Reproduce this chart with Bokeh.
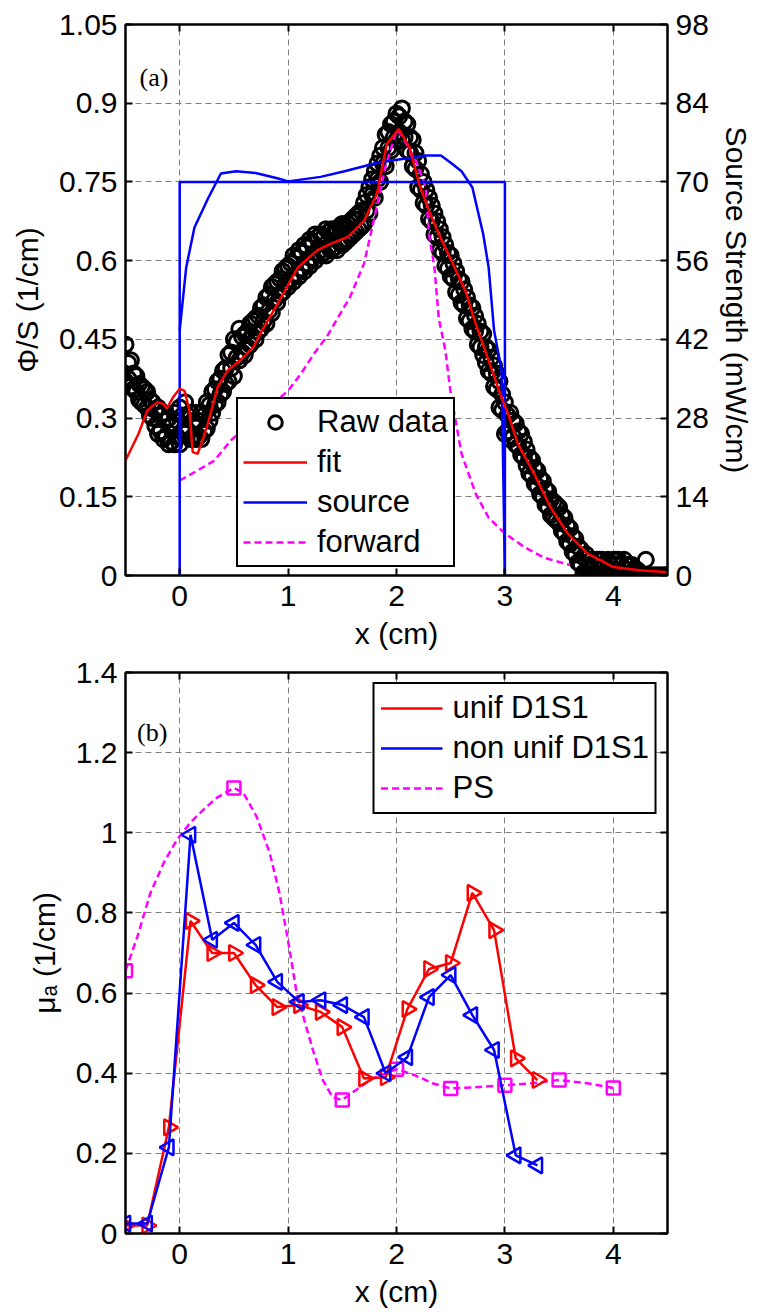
import numpy as np
from bokeh.plotting import figure
from bokeh.models import Range1d, LinearAxis, FixedTicker, Legend, LegendItem, Label
from bokeh.layouts import column
from bokeh.embed import file_html
from bokeh.resources import INLINE

FONT = "Liberation Sans"
SERIF = "Liberation Serif"

# ---------------- panel (a) data ----------------
# raw data: upper edge, lower edge (on x grid), upper-middle and lower-middle (between grid points)
raw_x = [-0.50, -0.45, -0.40, -0.35, -0.30, -0.25, -0.20, -0.15, -0.10, -0.05,
         0.00, 0.05, 0.10, 0.15, 0.20, 0.25, 0.30, 0.35, 0.40, 0.45,
         0.50, 0.55, 0.60, 0.65, 0.70, 0.75, 0.80, 0.85, 0.90, 0.95,
         1.00, 1.05, 1.10, 1.15, 1.20, 1.25, 1.30, 1.35, 1.40, 1.45,
         1.50, 1.55, 1.60, 1.65, 1.70, 1.75, 1.80, 1.85, 1.90, 1.95,
         2.00, 2.05, 2.10, 2.15, 2.20, 2.25, 2.30, 2.35, 2.40, 2.45,
         2.50, 2.55, 2.60, 2.65, 2.70, 2.75, 2.80, 2.85, 2.90, 2.95,
         3.00, 3.05, 3.10, 3.15, 3.20, 3.25, 3.30, 3.35, 3.40, 3.45,
         3.50, 3.55, 3.60, 3.65, 3.70, 3.75, 3.80, 3.85, 3.90, 3.95,
         4.00, 4.05, 4.10, 4.15, 4.20, 4.25, 4.30, 4.35, 4.40, 4.45, 4.50]
raw_top = [0.44, 0.41, 0.38, 0.36, 0.35, 0.33, 0.32, 0.31, 0.30, 0.31,
           0.32, 0.33, 0.31, 0.31, 0.31, 0.33, 0.35, 0.37, 0.39, 0.42,
           0.45, 0.47, 0.46, 0.48, 0.49, 0.51, 0.53, 0.55, 0.56, 0.58,
           0.59, 0.61, 0.62, 0.63, 0.64, 0.65, 0.65, 0.66, 0.66, 0.66,
           0.67, 0.67, 0.68, 0.69, 0.71, 0.74, 0.77, 0.80, 0.84, 0.86,
           0.88, 0.89, 0.86, 0.83, 0.79, 0.75, 0.72, 0.69, 0.66, 0.63,
           0.61, 0.58, 0.56, 0.53, 0.51, 0.48, 0.46, 0.43, 0.40, 0.37,
           0.33, 0.31, 0.29, 0.27, 0.24, 0.22, 0.20, 0.18, 0.16, 0.14,
           0.13, 0.11, 0.09, 0.07, 0.05, 0.04, 0.03, 0.03, 0.03, 0.03,
           0.03, 0.03, 0.03, 0.02, 0.01, 0.00, 0.03, 0.00, 0.00, 0.00, 0.00]
raw_bot = [0.37, 0.36, 0.35, 0.33, 0.32, 0.30, 0.27, 0.26, 0.25, 0.25,
           0.25, 0.27, 0.26, 0.26, 0.26, 0.28, 0.31, 0.33, 0.35, 0.37,
           0.38, 0.41, 0.42, 0.44, 0.45, 0.47, 0.48, 0.50, 0.52, 0.54,
           0.55, 0.56, 0.57, 0.58, 0.59, 0.60, 0.61, 0.61, 0.62, 0.62,
           0.63, 0.64, 0.65, 0.66, 0.67, 0.69, 0.72, 0.75, 0.78, 0.81,
           0.83, 0.83, 0.81, 0.78, 0.74, 0.71, 0.68, 0.65, 0.62, 0.59,
           0.57, 0.54, 0.52, 0.49, 0.47, 0.44, 0.42, 0.39, 0.36, 0.32,
           0.27, 0.26, 0.25, 0.23, 0.21, 0.19, 0.17, 0.15, 0.13, 0.11,
           0.10, 0.08, 0.06, 0.04, 0.02, 0.00, 0.00, 0.00, 0.00, 0.00,
           0.00, 0.00, 0.00, 0.00, 0.00, 0.00, 0.00, 0.00, 0.00, 0.00, 0.00]
raw_xm = [-0.475, -0.425, -0.375, -0.325, -0.275, -0.225, -0.175, -0.125, -0.075, -0.025,
          0.025, 0.075, 0.125, 0.175, 0.225, 0.275, 0.325, 0.375, 0.425, 0.475,
          0.525, 0.575, 0.625, 0.675, 0.725, 0.775, 0.825, 0.875, 0.925, 0.975,
          1.025, 1.075, 1.125, 1.175, 1.225, 1.275, 1.325, 1.375, 1.425, 1.475,
          1.525, 1.575, 1.625, 1.675, 1.725, 1.775, 1.825, 1.875, 1.925, 1.975,
          2.025, 2.075, 2.125, 2.175, 2.225, 2.275, 2.325, 2.375, 2.425, 2.475,
          2.525, 2.575, 2.625, 2.675, 2.725, 2.775, 2.825, 2.875, 2.925, 2.975,
          3.025, 3.075, 3.125, 3.175, 3.225, 3.275, 3.325, 3.375, 3.425, 3.475,
          3.525, 3.575, 3.625, 3.675, 3.725, 3.775, 3.825, 3.875, 3.925, 3.975,
          4.025, 4.075, 4.125, 4.175, 4.225, 4.275, 4.325, 4.375, 4.425, 4.475]
raw_umid = [0.405, 0.385, 0.365, 0.355, 0.335, 0.315, 0.305, 0.295, 0.285, 0.295,
            0.305, 0.305, 0.295, 0.295, 0.305, 0.325, 0.355, 0.375, 0.395, 0.425,
            0.445, 0.455, 0.465, 0.485, 0.495, 0.515, 0.535, 0.555, 0.565, 0.585,
            0.595, 0.605, 0.615, 0.625, 0.635, 0.645, 0.645, 0.655, 0.655, 0.665,
            0.665, 0.675, 0.685, 0.695, 0.725, 0.755, 0.785, 0.815, 0.845, 0.865,
            0.875, 0.865, 0.835, 0.805, 0.765, 0.735, 0.705, 0.675, 0.645, 0.615,
            0.595, 0.565, 0.545, 0.515, 0.495, 0.465, 0.435, 0.415, 0.385, 0.345,
            0.305, 0.295, 0.275, 0.255, 0.225, 0.205, 0.185, 0.165, 0.145, 0.135,
            0.115, 0.095, 0.075, 0.055, 0.035, 0.02, 0.02, 0.03, 0.02, 0.02,
            0.03, 0.02, 0.02, 0.02, 0.01, 0.00, 0.00, 0.00, 0.00, 0.00]
raw_lmid = [0.375, 0.355, 0.335, 0.325, 0.305, 0.285, 0.275, 0.265, 0.255, 0.265,
            0.275, 0.275, 0.265, 0.265, 0.275, 0.295, 0.325, 0.345, 0.365, 0.395,
            0.415, 0.425, 0.435, 0.455, 0.465, 0.485, 0.505, 0.525, 0.535, 0.555,
            0.565, 0.575, 0.585, 0.595, 0.605, 0.615, 0.615, 0.625, 0.625, 0.635,
            0.635, 0.645, 0.655, 0.665, 0.695, 0.725, 0.755, 0.785, 0.815, 0.835,
            0.845, 0.835, 0.805, 0.775, 0.735, 0.705, 0.675, 0.645, 0.615, 0.585,
            0.565, 0.535, 0.515, 0.485, 0.465, 0.435, 0.405, 0.385, 0.355, 0.315,
            0.275, 0.265, 0.245, 0.225, 0.195, 0.175, 0.155, 0.135, 0.115, 0.105,
            0.085, 0.065, 0.045, 0.025, 0.005, 0.00, 0.00, 0.01, 0.00, 0.00,
            0.01, 0.00, 0.00, 0.00, 0.00, 0.00, 0.00, 0.00, 0.00, 0.00]

fit_x = [-0.5, -0.38, -0.3, -0.21, -0.15, -0.12, -0.06, 0.0, 0.045, 0.09, 0.12,
         0.165, 0.21, 0.26, 0.35, 0.44, 0.56, 0.68, 0.76, 0.92, 1.09, 1.27,
         1.39, 1.55, 1.7, 1.82, 1.91, 2.02, 2.12, 2.21, 2.3, 2.39, 2.52, 2.64,
         2.73, 2.85, 2.955, 3.03, 3.12, 3.27, 3.42, 3.58, 3.76, 4.0, 4.24, 4.5]
fit_y = [0.219, 0.27, 0.314, 0.33, 0.327, 0.318, 0.34, 0.356, 0.352, 0.314, 0.235,
         0.232, 0.257, 0.29, 0.359, 0.39, 0.41, 0.435, 0.467, 0.524, 0.587, 0.62,
         0.632, 0.645, 0.676, 0.727, 0.822, 0.851, 0.816, 0.746, 0.695, 0.651, 0.594, 0.54,
         0.48, 0.41, 0.347, 0.308, 0.251, 0.194, 0.13, 0.08, 0.042, 0.016, 0.01, 0.006]

fwd_x = [0.0, 0.165, 0.32, 0.47, 0.7, 1.0, 1.12, 1.24, 1.36, 1.57, 1.7, 1.79, 1.9,
         2.0, 2.03, 2.18, 2.27, 2.3, 2.35, 2.39, 2.45, 2.5, 2.6, 2.73, 2.85, 3.0,
         3.18, 3.36, 3.6]
fwd_y = [0.181, 0.2, 0.219, 0.257, 0.30, 0.352, 0.385, 0.423, 0.456, 0.53, 0.594, 0.676, 0.78,
         0.848, 0.845, 0.79, 0.74, 0.65, 0.587, 0.49, 0.43, 0.347, 0.232, 0.156, 0.11, 0.08,
         0.054, 0.034, 0.02]

# source strength (mW/cm), right axis
src_step_x = [0.0, 0.0, 3.0, 3.0]
src_step_y = [0.0, 70.0, 70.0, 0.0]
src_x = [0.0, 0.06, 0.136, 0.26, 0.38, 0.52, 0.70, 0.91, 1.0, 1.3, 1.52, 1.7, 1.82,
         2.27, 2.41, 2.5, 2.6, 2.7, 2.8, 2.85, 2.9, 2.97, 3.0]
src_y = [43.6, 54.8, 61.9, 67.0, 71.5, 71.9, 71.6, 70.6, 70.1, 70.9, 71.9, 72.8, 73.4,
         74.7, 74.7, 73.4, 71.9, 69.0, 60.7, 54.8, 43.6, 36.4, 0.0]

a_xticks = [0, 1, 2, 3, 4]
a_yticks = [0, 0.15, 0.3, 0.45, 0.6, 0.75, 0.9, 1.05]
a_ylabels = ["0", "0.15", "0.3", "0.45", "0.6", "0.75", "0.9", "1.05"]
a_rticks = [0, 14, 28, 42, 56, 70, 84, 98]

# ---------------- panel (b) data ----------------
unif_x = [-0.5, -0.3, -0.1, 0.1, 0.3, 0.5, 0.7, 0.9, 1.1, 1.3, 1.5, 1.7, 1.9, 2.1,
          2.3, 2.5, 2.7, 2.9, 3.1, 3.3]
unif_y = [0.02, 0.02, 0.265, 0.78, 0.70, 0.70, 0.62, 0.565, 0.57, 0.553, 0.515, 0.387,
          0.39, 0.56, 0.66, 0.675, 0.85, 0.757, 0.437, 0.383]
nonu_x = [-0.5, -0.3, -0.1, 0.1, 0.3, 0.5, 0.7, 0.9, 1.1, 1.3, 1.5, 1.7, 1.9, 2.1,
          2.3, 2.5, 2.7, 2.9, 3.1, 3.3]
nonu_y = [0.025, 0.025, 0.215, 0.995, 0.733, 0.775, 0.72, 0.628, 0.578, 0.582, 0.57, 0.54,
          0.40, 0.44, 0.59, 0.645, 0.545, 0.458, 0.195, 0.17]
ps_x = [-0.5, 0.5, 1.5, 2.0, 2.5, 3.0, 3.5, 4.0]
ps_y = [0.656, 1.112, 0.333, 0.41, 0.362, 0.37, 0.383, 0.363]
# PS dashed curve as traced in the picture
ps_curve_x = [-0.5, -0.39, -0.27, -0.147, -0.027, 0.098, 0.22, 0.34, 0.5, 0.587, 0.71,
              0.83, 0.92, 1.0, 1.075, 1.15, 1.23, 1.32, 1.41, 1.5, 1.62, 1.78, 2.0,
              2.17, 2.33, 2.5, 2.73, 3.0, 3.25, 3.5, 3.76, 4.0]
ps_curve_y = [0.656, 0.741, 0.85, 0.925, 0.982, 1.025, 1.058, 1.087, 1.112, 1.10, 1.04,
              0.95, 0.85, 0.73, 0.607, 0.532, 0.457, 0.383, 0.34, 0.333, 0.357, 0.387, 0.41,
              0.395, 0.375, 0.362, 0.365, 0.37, 0.375, 0.383, 0.375, 0.363]

b_xticks = [0, 1, 2, 3, 4]
b_yticks = [0, 0.2, 0.4, 0.6, 0.8, 1.0, 1.2, 1.4]
b_ylabels = ["0", "0.2", "0.4", "0.6", "0.8", "1", "1.2", "1.4"]

RED = "#ff0000"
BLUE = "#0000ff"
MAG = "#ff00ff"
TICK_FS = "30px"


def ticks_only_axis(ticker, **kw):
    return LinearAxis(ticker=ticker, major_label_text_color=None,
                      major_label_text_font_size="1px", major_label_standoff=0,
                      major_tick_in=7, major_tick_out=0, major_tick_line_width=2,
                      minor_tick_line_color=None, axis_line_width=2, **kw)


def style(p, xticks, yticks, ylabels):
    p.xaxis.ticker = FixedTicker(ticks=xticks)
    p.yaxis.ticker = FixedTicker(ticks=yticks)
    p.yaxis.major_label_overrides = {t: s for t, s in zip(yticks, ylabels)}
    for ax in p.axis:
        ax.major_label_text_font = FONT
        ax.major_label_text_font_size = TICK_FS
        ax.major_label_text_color = "black"
        ax.axis_label_text_font = FONT
        ax.axis_label_text_font_size = TICK_FS
        ax.axis_label_text_font_style = "normal"
        ax.axis_label_text_color = "black"
        ax.axis_line_width = 2
        ax.axis_line_color = "black"
        ax.major_tick_in = 7
        ax.major_tick_out = 0
        ax.major_tick_line_width = 2
        ax.minor_tick_line_color = None
        ax.major_label_standoff = 8
    p.xaxis.major_label_standoff = 10
    p.xaxis.axis_label_standoff = 8
    p.grid.grid_line_color = "#808080"
    p.grid.grid_line_dash = "6 4"
    p.grid.grid_line_width = 1
    p.outline_line_color = "black"
    p.outline_line_width = 2
    p.background_fill_color = "white"
    p.border_fill_color = "white"
    p.add_layout(ticks_only_axis(FixedTicker(ticks=xticks)), "above")


def style_legend(leg):
    leg.label_text_font = FONT
    leg.label_text_font_size = "31px"
    leg.label_text_color = "black"
    leg.border_line_color = "black"
    leg.border_line_width = 2
    leg.border_line_alpha = 1.0
    leg.background_fill_color = "white"
    leg.background_fill_alpha = 1.0
    leg.glyph_height = 34
    leg.label_height = 34
    leg.spacing = 4
    leg.label_standoff = 10


# ---------------- figure (a) ----------------
p1 = figure(width=760, height=655, x_range=Range1d(-0.5, 4.5), y_range=Range1d(0, 1.05),
            output_backend="svg", toolbar_location=None,
            min_border_left=125, min_border_right=85, min_border_top=24, min_border_bottom=80)
p1.extra_y_ranges = {"src": Range1d(0, 98)}
p1.xaxis.axis_label = "x (cm)"
p1.yaxis.axis_label = "Φ/S (1/cm)"
right = LinearAxis(y_range_name="src", axis_label="Source Strength (mW/cm)")
p1.add_layout(right, "right")
style(p1, a_xticks, a_yticks, a_ylabels)
right.ticker = FixedTicker(ticks=a_rticks)
right.major_label_overrides = {}
p1.yaxis[0].axis_label_standoff = 12
right.axis_label_standoff = 8

RAW_STYLE = dict(marker="circle", size=15, fill_color=None, line_color="black", line_width=3)
r_raw = p1.scatter(raw_x, raw_top, **RAW_STYLE)
p1.scatter(raw_x, raw_bot, **RAW_STYLE)
p1.scatter(raw_xm, raw_umid, **RAW_STYLE)
p1.scatter(raw_xm, raw_lmid, **RAW_STYLE)
r_fwd = p1.line(fwd_x, fwd_y, line_color=MAG, line_width=2.5, line_dash="7 4")
r_step = p1.line(src_step_x, src_step_y, line_color=BLUE, line_width=2.5, y_range_name="src")
r_src = p1.line(src_x, src_y, line_color=BLUE, line_width=2.5, y_range_name="src")
r_fit = p1.line(fit_x, fit_y, line_color=RED, line_width=2.5)

leg1 = Legend(items=[LegendItem(label="Raw data", renderers=[r_raw]),
                     LegendItem(label="fit", renderers=[r_fit]),
                     LegendItem(label="source", renderers=[r_src]),
                     LegendItem(label="forward", renderers=[r_fwd])],
              location=(111, 8), orientation="vertical",
              glyph_width=64, padding=5, margin=0)
style_legend(leg1)
p1.add_layout(leg1, "center")
p1.add_layout(Label(x=-0.37, y=0.949, text="(a)", text_font=SERIF, text_font_size="26px",
                    text_color="black", text_baseline="middle", text_align="left"))

# ---------------- figure (b) ----------------
p2 = figure(width=760, height=660, x_range=Range1d(-0.5, 4.5), y_range=Range1d(0, 1.4),
            output_backend="svg", toolbar_location=None,
            min_border_left=122, min_border_right=93, min_border_top=17, min_border_bottom=82)
p2.xaxis.axis_label = "x (cm)"
p2.yaxis.axis_label = "μₐ (1/cm)"
style(p2, b_xticks, b_yticks, b_ylabels)
p2.yaxis[0].axis_label_standoff = 12
p2.add_layout(ticks_only_axis(FixedTicker(ticks=b_yticks)), "right")

l_ps = p2.line(ps_curve_x, ps_curve_y, line_color=MAG, line_width=2.5, line_dash="7 4")
p2.scatter(ps_x, ps_y, marker="square", size=13, fill_color=None, line_color=MAG, line_width=2.5)
l_u = p2.line(unif_x, unif_y, line_color=RED, line_width=2.5)
p2.scatter(unif_x, unif_y, marker="triangle", angle=-np.pi / 2, size=16, fill_color=None,
           line_color=RED, line_width=2.5)
l_n = p2.line(nonu_x, nonu_y, line_color=BLUE, line_width=2.5)
p2.scatter(nonu_x, nonu_y, marker="triangle", angle=np.pi / 2, size=16, fill_color=None,
           line_color=BLUE, line_width=2.5)

leg2 = Legend(items=[LegendItem(label="unif D1S1", renderers=[l_u]),
                     LegendItem(label="non unif D1S1", renderers=[l_n]),
                     LegendItem(label="PS", renderers=[l_ps])],
              location="top_right", orientation="vertical",
              glyph_width=62, padding=6, margin=10)
style_legend(leg2)
p2.add_layout(leg2, "center")
p2.add_layout(Label(x=-0.394, y=1.25, text="(b)", text_font=SERIF, text_font_size="26px",
                    text_color="black", text_baseline="middle", text_align="left"))

layout = column(p1, p2, spacing=0)
open("out.html", "w").write(file_html(layout, INLINE))
